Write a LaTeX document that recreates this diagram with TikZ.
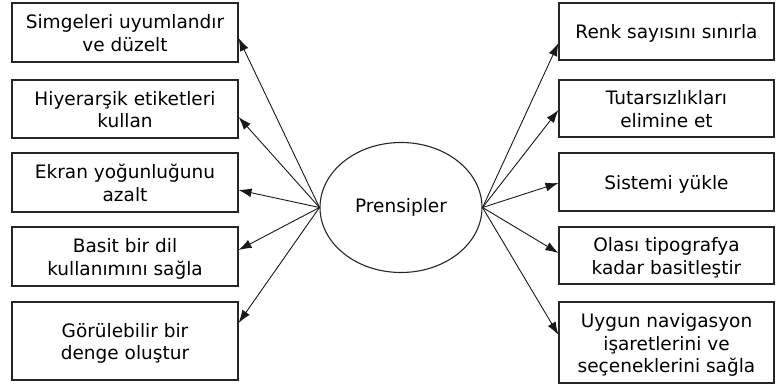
\documentclass[tikz,border=0pt]{standalone}
\usepackage{fontspec}
\setmainfont{DejaVu Sans}
\usetikzlibrary{arrows.meta,shapes.geometric}
% box label: centred lines, set a little below the middle of the box
\newcommand\boxlabel[1]{\raisebox{0pt}[\dimexpr\height+6pt\relax][\depth]{%
  \begin{tabular}{@{}c@{}}#1\end{tabular}}}
\begin{document}
\begin{tikzpicture}[x=1pt,y=-1pt,
  box/.style={draw=black!85,line width=1.1pt,inner sep=0pt,
    font=\fontsize{18.5}{22.5}\selectfont},
  lbox/.style={box,minimum width=226pt},
  rbox/.style={box,minimum width=215pt},
  hub/.style={draw=black!85,line width=1.1pt,ellipse,minimum width=162pt,minimum height=130pt,
    inner sep=0pt,font=\fontsize{18.5}{22}\selectfont},
  arr/.style={draw=black!90,line width=0.9pt,-{Latex[length=13pt,width=9pt]}}]
\useasboundingbox (0,0) rectangle (776,387);

% centre
\node[hub] (p) at (401,207.5) {Prensipler};

% left column
\node[lbox,minimum height=59pt] (l1) at (125,32.5) {\boxlabel{Simgeleri uyumlandır\\ve düzelt}};
\node[lbox,minimum height=58pt] (l2) at (125,109) {\boxlabel{Hiyerarşik etiketleri\\kullan}};
\node[lbox,minimum height=59pt] (l3) at (125,182.5) {\boxlabel{Ekran yoğunluğunu\\azalt}};
\node[lbox,minimum height=59pt] (l4) at (125,256.5) {\boxlabel{Basit bir dil\\kullanımını sağla}};
\node[lbox,minimum height=78pt] (l5) at (125,341) {\boxlabel{Görülebilir bir\\denge oluştur}};

% right column
\node[rbox,minimum height=57pt] (r1) at (666.5,31.5) {\boxlabel{Renk sayısını sınırla}};
\node[rbox,minimum height=57pt] (r2) at (666.5,108.5) {\boxlabel{Tutarsızlıkları\\elimine et}};
\node[rbox,minimum height=58pt] (r3) at (666.5,182) {\boxlabel{Sistemi yükle}};
\node[rbox,minimum height=57pt] (r4) at (666.5,255.5) {\boxlabel{Olası tipografya\\kadar basitleştir}};
\node[rbox,minimum height=81pt] (r5) at (666.5,342.5) {\boxlabel{Uygun navigasyon\\işaretlerini ve\\seçeneklerini sağla}};

% connectors from the hub
\draw[arr] (p.west) -- ([yshift=-5.5pt]l1.east);
\draw[arr] (p.west) -- ([yshift=-8pt]l2.east);
\draw[arr] (p.west) -- ([yshift=-7.5pt]l3.east);
\draw[arr] (p.west) -- ([yshift=6.5pt]l4.east);
\draw[arr] (p.west) -- ([yshift=18pt]l5.east);
\draw[arr] (p.east) -- ([yshift=-11.5pt]r1.west);
\draw[arr] (p.east) -- ([yshift=-1.5pt]r2.west);
\draw[arr] (p.east) -- ([yshift=-1pt]r3.west);
\draw[arr] (p.east) -- ([yshift=2.5pt]r4.west);
\draw[arr] (p.east) -- ([yshift=7.5pt]r5.west);
\end{tikzpicture}
\end{document}
